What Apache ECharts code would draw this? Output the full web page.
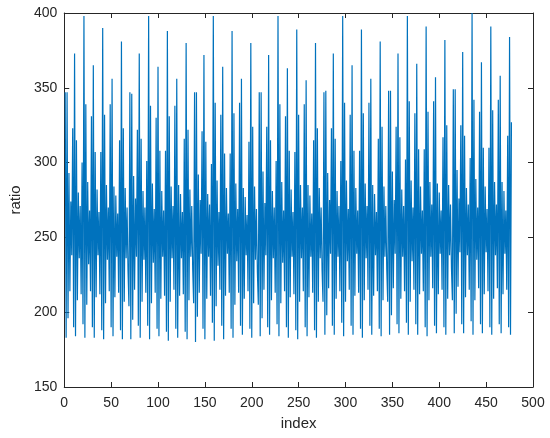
<!DOCTYPE html>
<html>
<head>
<meta charset="utf-8">
<script src="https://cdn.jsdelivr.net/npm/echarts@6/dist/echarts.min.js"></script>
<style>
html,body{margin:0;padding:0;background:#fff;}
#chart{width:550px;height:438px;}
</style>
</head>
<body>
<div id="chart"></div>
<script>
// ratio values, sample index starts at 1 (one line per ~69-sample repeat)
var ratio = [
  347,183,347,196,293,214,274,238,323,190, 373,184,315,208,280,236,271,212,300,192, 398,183,339,205,287,232,268,214,331,190, 365,183,307,210,282,238,267,212,307,188, 390,182,332,206,285,235,270,214,339,190, 356,184,284,210,278,237,266,213,315,188, 381,182,323,207,283,236,270,228,
  204,347,182,346,195,291,215,276,237,322, 191,373,183,316,207,281,235,270,213,301, 191,398,182,338,206,286,233,269,213,330, 189,364,184,308,209,281,237,268,211,308, 187,388,181,331,207,284,236,271,215,338, 189,356,183,285,211,279,236,267,212,316, 187,380,182,322,208,282,237,271,229,
  206,347,180,347,197,292,213,275,239,321, 189,372,182,314,209,279,237,272,211,299, 193,398,181,340,204,288,231,267,215,332, 191,364,182,306,211,283,239,266,213,306, 189,388,183,333,205,286,234,269,213,340, 191,356,185,283,209,277,238,265,214,314, 189,380,183,324,206,284,235,269,227,
  205,347,184,347,196,294,215,273,238,324, 190,372,185,315,208,281,236,270,213,301, 192,398,184,339,206,287,233,268,214,331, 190,363,183,308,210,282,237,267,212,307, 188,389,182,332,207,285,236,270,214,339, 190,355,184,285,210,278,237,266,213,315, 188,380,183,323,207,283,236,270,228,
  207,347,185,348,198,293,216,275,239,323, 191,373,185,316,209,281,237,271,214,301, 193,398,184,340,207,288,234,269,215,332, 191,365,185,308,211,283,239,268,213,308, 189,389,183,333,208,286,236,271,215,340, 191,356,185,285,211,279,238,267,214,316, 189,381,184,324,208,284,237,271,229,
  207,348,185,348,198,294,216,275,239,324, 192,373,186,317,209,282,237,271,214,302, 193,398,185,341,207,288,234,270,215,333, 192,366,185,309,212,284,239,268,214,309, 190,391,184,334,208,287,237,272,216,341, 191,357,186,286,212,280,239,268,215,317, 190,382,185,325,209,285,238,272,230,
  208,349,186,349,199,295,217,276,240,325, 192,374,186,318,210,283,238,272,215,303, 194,400,185,342,208,289,235,270,216,334, 192,367,186,310,212,284,240,269,214,310, 190,391,185,335,209,287,238,272,216,342, 192,358,186,287,212,281,239,268,215,318, 190,384,185,327
];
var xTicks = {min: 0, max: 500, interval: 50};
var yTicks = {min: 150, max: 400, interval: 50};
var xName = 'index';
var yName = 'ratio';

var points = ratio.map(function (v, i) { return [i + 1, v]; });

var axisColor = '#262626';
var font = '"Liberation Sans", Arial, Helvetica, sans-serif';
function axisBase(extra) {
  var a = {
    type: 'value',
    axisLine: {show: true, onZero: false, lineStyle: {color: axisColor, width: 1}},
    axisTick: {show: true, inside: true, length: 5, lineStyle: {color: axisColor}},
    splitLine: {show: false},
    axisLabel: {show: true, color: axisColor, fontSize: 14, fontFamily: font}
  };
  for (var k in extra) a[k] = extra[k];
  return a;
}

var chart = echarts.init(document.getElementById('chart'), null, {renderer: 'canvas'});
chart.setOption({
  animation: false,
  backgroundColor: '#ffffff',
  grid: {left: 59, right: 17, top: 13, bottom: 51, containLabel: false},
  xAxis: [
    axisBase({position: 'bottom', min: xTicks.min, max: xTicks.max, interval: xTicks.interval,
      name: xName, nameLocation: 'middle', nameGap: 29,
      nameTextStyle: {color: axisColor, fontSize: 15, fontFamily: font},
      axisLabel: {show: true, color: axisColor, fontSize: 14, fontFamily: font, margin: 9}}),
    axisBase({position: 'top', min: xTicks.min, max: xTicks.max, interval: xTicks.interval,
      axisLabel: {show: false}})
  ],
  yAxis: [
    axisBase({position: 'left', min: yTicks.min, max: yTicks.max, interval: yTicks.interval,
      name: yName, nameLocation: 'middle', nameGap: 35, nameRotate: 90,
      nameTextStyle: {color: axisColor, fontSize: 15, fontFamily: font},
      axisLabel: {show: true, color: axisColor, fontSize: 14, fontFamily: font, margin: 7}}),
    axisBase({position: 'right', min: yTicks.min, max: yTicks.max, interval: yTicks.interval,
      axisLabel: {show: false}})
  ],
  series: [{
    type: 'line',
    data: points,
    xAxisIndex: 0,
    yAxisIndex: 0,
    showSymbol: false,
    symbol: 'none',
    lineStyle: {color: '#0072BD', width: 1.2},
    itemStyle: {color: '#0072BD'}
  }]
});
</script>
</body>
</html>
